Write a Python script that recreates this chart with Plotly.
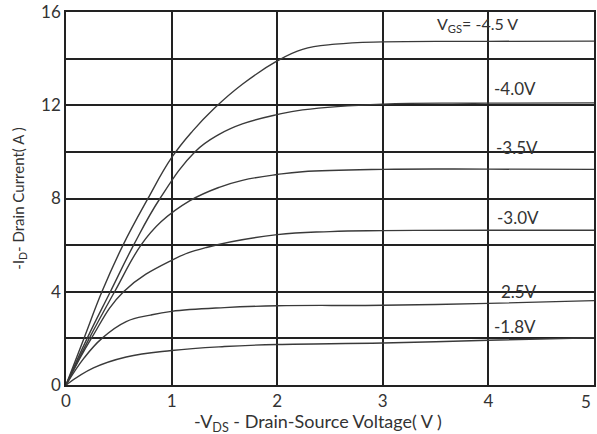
import plotly.graph_objects as go

# Data
v_45 = [0, 0.17, 0.34, 0.54, 0.77, 1.0, 1.2, 1.4, 1.67, 2.0, 2.24, 2.55, 3.0, 4.0, 5.0]
i_45 = [0, 2.0, 4.0, 6.0, 7.95, 9.75, 10.9, 11.85, 12.9, 13.9, 14.4, 14.62, 14.72, 14.74, 14.75]

v_40 = [0, 0.2, 0.42, 0.64, 0.89, 1.22, 1.45, 1.67, 2.0, 2.24, 3.0, 4.0, 5.0]
i_40 = [0, 2.0, 4.0, 6.0, 8.0, 10.0, 10.75, 11.2, 11.6, 11.8, 12.05, 12.09, 12.1]

v_35 = [0, 0.22, 0.46, 0.71, 0.9, 1.17, 1.45, 1.67, 2.0, 2.24, 3.0, 4.0, 5.0]
i_35 = [0, 2.0, 4.0, 6.0, 7.0, 7.9, 8.48, 8.78, 9.03, 9.15, 9.25, 9.26, 9.25]

v_30 = [0, 0.24, 0.545, 1.0, 1.33, 2.0, 2.5, 3.0, 4.0, 5.0]
i_30 = [0, 2.0, 4.0, 5.35, 5.9, 6.45, 6.58, 6.62, 6.64, 6.64]

v_25 = [0, 0.17, 0.34, 0.57, 0.8, 1.0, 1.5, 2.0, 3.0, 4.0, 5.0]
i_25 = [0, 1.15, 2.0, 2.72, 3.0, 3.16, 3.32, 3.4, 3.42, 3.5, 3.62]

v_18 = [0, 0.26, 0.57, 1.0, 1.5, 2.0, 3.0, 4.0, 5.0]
i_18 = [0, 0.73, 1.2, 1.48, 1.65, 1.74, 1.8, 1.92, 2.03]

series = [(v_45, i_45), (v_40, i_40), (v_35, i_35), (v_30, i_30), (v_25, i_25), (v_18, i_18)]

label_text = ["V<sub>GS</sub>= -4.5 V", "-4.0V", "-3.5V", "-3.0V", "2.5V", "-1.8V"]
label_x = [3.9, 4.25, 4.27, 4.28, 4.29, 4.25]
label_y = [15.45, 12.7, 10.2, 7.17, 3.99, 2.49]
label_size = [16, 17, 17, 17, 17, 17]

x_ticks = [0, 1, 2, 3, 4]
x_last_tick = 5

FONT = "Lato"
TXT = "#333333"
GRID = "#222222"

fig = go.Figure()
for vx, iy in series:
    fig.add_trace(go.Scatter(x=vx, y=iy, mode="lines",
                             line=dict(color="#3a3a3a", width=1.4, shape="spline", smoothing=1.2),
                             showlegend=False, hoverinfo="skip"))

for t, x, y, s in zip(label_text, label_x, label_y, label_size):
    fig.add_annotation(x=x, y=y, text=t, showarrow=False, xanchor="center", yanchor="middle",
                       font=dict(family=FONT, size=s, color=TXT))

# last x tick label sits right-aligned at the plot edge in the reference
fig.add_annotation(x=x_last_tick, y=0, yref="y", text=str(x_last_tick), showarrow=False,
                   xanchor="right", yanchor="middle", yshift=-16, xshift=-1,
                   font=dict(family=FONT, size=17, color=TXT))

fig.add_annotation(xref="paper", yref="paper", x=(319 - 66) / 530, y=-0.1,
                   text="-V<sub>DS</sub> - Drain-Source Voltage( V )", showarrow=False,
                   xanchor="center", yanchor="middle", font=dict(family=FONT, size=18, color=TXT))
fig.add_annotation(xref="paper", yref="paper", x=(18 - 66) / 530, y=0.5, textangle=-90,
                   text="-I<sub>D</sub>- Drain Current( A )", showarrow=False,
                   xanchor="center", yanchor="middle", font=dict(family=FONT, size=15, color=TXT))

fig.update_layout(
    width=597, height=434,
    margin=dict(l=66, r=1, t=12, b=49),
    paper_bgcolor="white", plot_bgcolor="white",
    font=dict(family=FONT, size=17, color=TXT),
)
fig.update_xaxes(range=[0, 5], tickvals=x_ticks, showgrid=True, gridcolor=GRID, gridwidth=1.5,
                 showline=True, linecolor=GRID, linewidth=1.5, mirror=True, zeroline=False,
                 ticks="", tickfont=dict(family=FONT, size=17, color=TXT),
                 minor=dict(dtick=1, tick0=0, showgrid=True, gridcolor=GRID, gridwidth=1.5))
fig.update_yaxes(range=[0, 16], dtick=4, tick0=0, showgrid=True,
                 gridcolor=GRID, gridwidth=1.5, showline=True, linecolor=GRID,
                 linewidth=1.5, mirror=True, zeroline=False, ticks="",
                 minor=dict(dtick=2, tick0=0, showgrid=True, gridcolor=GRID, gridwidth=1.5),
                 tickfont=dict(family=FONT, size=17, color=TXT))

fig.write_html("out.html", config={"displayModeBar": False},
               post_script="document.body.style.margin='0';")
